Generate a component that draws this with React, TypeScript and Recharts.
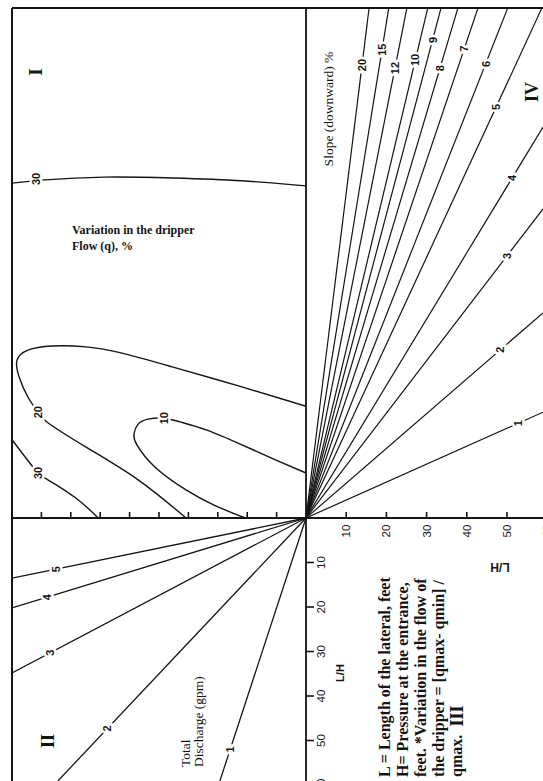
import React from "react";
import { ComposedChart, Line, Scatter, XAxis, YAxis, ReferenceLine } from "recharts";

// page / frame layout
const W = 543;
const H = 781;
const ORIGIN_X = 306;
const ORIGIN_Y = 518;
const FRAME_LEFT = 12;
const FRAME_TOP = 8;
const PX_PER_LEFT = 29.4; // left scale, 0..10
const PX_PER_HL = 4.02; // right scale (L/H), 0..60
const PX_PER_LH = 4.45; // downward scale (L/H), 0..60
const PX_PER_UP = 4.6; // upward scale (unlabelled)

const INK = "#141414";
const serif = "'Liberation Serif', 'Times New Roman', serif";
const sans = "'Liberation Sans', Arial, sans-serif";

// axis ticks
const leftTicks = [1, 2, 3, 4, 5, 6, 7, 8, 9];
const lhTicks = [10, 20, 30, 40, 50, 60];
const hlTicks = [10, 20, 30, 40, 50, 60];

// quadrant II: total discharge (gpm), end point as [left scale, L/H]
const dischargeNames = ["1", "2", "3", "4", "5"];
const dischargeEndLeft = [2.93, 8.44, 10, 10, 10];
const dischargeEndLH = [59.1, 59.1, 34.8, 20.2, 13.5];

// quadrant IV: slope (downward) %, end point as [L/H right, upward scale]
const slopeNames = ["1", "2", "3", "4", "5", "6", "7", "8", "9", "10", "12", "15", "20"];
const slopeEndHL = [58.96, 58.96, 58.96, 58.96, 58.7, 50.2, 42.8, 37.8, 33.6, 30.3, 25.1, 20.6, 15.7];
const slopeEndUp = [23.0, 44.6, 67.2, 85.0, 110.9, 110.9, 110.9, 110.9, 110.9, 110.9, 110.9, 110.9, 110.9];

// quadrant I: variation in dripper flow (q) %, as [left scale, upward scale]
const variationNames = ["30", "20", "10", "30"];
const variation30Top = [[10, 72.8], [8.88, 73.5], [6.87, 74.1], [4.52, 73.9], [2.18, 73.3], [0, 72.2]];
const variation20 = [
  [0, 24.3], [2.18, 28.5], [4.52, 32.8], [6.29, 35.9], [7.48, 37.2], [8.64, 37.4],
  [9.46, 36.5], [9.83, 34.3], [9.76, 30.7], [9.46, 26.3], [9.12, 23.0], [8.78, 20.7],
  [7.48, 15.4], [5.71, 8.3], [4.08, 0],
];
const variation10 = [
  [0, 9.78], [1.02, 12.6], [2.18, 15.9], [3.37, 19.1], [4.29, 20.9], [4.83, 21.7],
  [5.37, 21.5], [5.71, 20.4], [5.85, 18.3], [5.75, 15.9], [5.14, 11.1], [4.08, 6.1],
  [3.13, 2.8], [2.07, 0],
];
const variation30Low = [[10, 17.0], [9.52, 13.0], [9.12, 9.8], [8.78, 8.3], [7.82, 4.3], [7.07, 0]];

// label placement (fraction along each line / label spot)
const dischargeLabelAt = [0.88, 0.8, 0.87, 0.88, 0.85];
const slopeLabelAt = [0.896, 0.82, 0.848, 0.87, 0.806, 0.89, 0.92, 0.882, 0.937, 0.898, 0.882, 0.918, 0.888];
const variationLabelPos = [[9.18, 73.7], [9.12, 23.0], [4.83, 21.7], [9.12, 9.8]];

const noteLines = [
  "L = Length of the lateral, feet",
  "H= Pressure at the entrance,",
  "feet. *Variation in the flow of",
  "the dripper = [qmax- qmin] /",
  "qmax.",
];

const xlDomain = [-(W - ORIGIN_X) / PX_PER_LEFT, (ORIGIN_X - FRAME_LEFT) / PX_PER_LEFT];
const xrDomain = [-(ORIGIN_X - FRAME_LEFT) / PX_PER_HL, (W - ORIGIN_X) / PX_PER_HL];
const ydDomain = [-(ORIGIN_Y - FRAME_TOP) / PX_PER_LH, (H - ORIGIN_Y) / PX_PER_LH];
const yuDomain = [-(H - ORIGIN_Y) / PX_PER_UP, (ORIGIN_Y - FRAME_TOP) / PX_PER_UP];

const pts = (pairs: number[][]) => pairs.map(([x, y]) => ({ x, y }));

const LineLabel = (props: any) => {
  const { cx, cy, payload } = props;
  return (
    <text
      x={cx}
      y={cy}
      transform={`rotate(-90 ${cx} ${cy})`}
      textAnchor="middle"
      dominantBaseline="central"
      fontFamily={sans}
      fontWeight="bold"
      fontSize={11}
      fill={INK}
      stroke="#fff"
      strokeWidth={5}
      paintOrder="stroke"
    >
      {payload.label}
    </text>
  );
};

const UpTick = (props: any) => {
  const { cx, cy } = props;
  return <line x1={cx} x2={cx} y1={cy} y2={cy - 6} stroke={INK} strokeWidth={1.6} />;
};

const RightTick = (props: any) => {
  const { cx, cy, payload } = props;
  return (
    <g>
      <line x1={cx} x2={cx} y1={cy} y2={cy - 6} stroke={INK} strokeWidth={1.6} />
      <text
        x={cx}
        y={cy + 13}
        transform={`rotate(-90 ${cx} ${cy + 13})`}
        textAnchor="middle"
        dominantBaseline="central"
        fontFamily={sans}
        fontSize={11.5}
        fill={INK}
      >
        {payload.label}
      </text>
    </g>
  );
};

const DownTick = (props: any) => {
  const { cx, cy, payload } = props;
  return (
    <g>
      <line x1={cx} x2={cx + 8} y1={cy} y2={cy} stroke={INK} strokeWidth={1.6} />
      <text
        x={cx + 15}
        y={cy}
        transform={`rotate(-90 ${cx + 15} ${cy})`}
        textAnchor="middle"
        dominantBaseline="central"
        fontFamily={sans}
        fontSize={11.5}
        fill={INK}
      >
        {payload.label}
      </text>
    </g>
  );
};

const VText = ({ x, y, size, weight = "normal", family = serif, anchor = "middle", children }: any) => (
  <text
    x={x}
    y={y}
    transform={`rotate(-90 ${x} ${y})`}
    textAnchor={anchor}
    dominantBaseline="central"
    fontFamily={family}
    fontWeight={weight}
    fontSize={size}
    fill={INK}
  >
    {children}
  </text>
);

export default function App() {
  const dischargeLabels = dischargeNames.map((label, i) => ({
    x: dischargeEndLeft[i] * dischargeLabelAt[i],
    y: dischargeEndLH[i] * dischargeLabelAt[i],
    label,
  }));
  const slopeLabels = slopeNames.map((label, i) => ({
    x: slopeEndHL[i] * slopeLabelAt[i],
    y: slopeEndUp[i] * slopeLabelAt[i],
    label,
  }));
  const variationLabels = variationNames.map((label, i) => ({
    x: variationLabelPos[i][0],
    y: variationLabelPos[i][1],
    label,
  }));
  const contours = [variation30Top, variation20, variation10, variation30Low];

  return (
    <div style={{ position: "relative", width: W, height: H, overflow: "hidden", background: "#fff" }}>
      <style>{"body{margin:0;background:#fff}"}</style>
      <ComposedChart width={W} height={H} margin={{ top: FRAME_TOP, left: FRAME_LEFT, right: 0, bottom: 0 }}>
        <XAxis xAxisId="xl" type="number" dataKey="x" domain={xlDomain} reversed hide allowDataOverflow />
        <XAxis xAxisId="xr" type="number" dataKey="x" domain={xrDomain} hide allowDataOverflow />
        <YAxis yAxisId="yd" type="number" dataKey="y" domain={ydDomain} reversed hide allowDataOverflow />
        <YAxis yAxisId="yu" type="number" dataKey="y" domain={yuDomain} hide allowDataOverflow />

        <ReferenceLine xAxisId="xl" yAxisId="yu" x={xlDomain[1]} stroke={INK} strokeWidth={2} />
        <ReferenceLine xAxisId="xl" yAxisId="yu" y={yuDomain[1]} stroke={INK} strokeWidth={2} />
        <ReferenceLine xAxisId="xl" yAxisId="yu" x={0} stroke={INK} strokeWidth={1.8} />
        <ReferenceLine xAxisId="xl" yAxisId="yu" y={0} stroke={INK} strokeWidth={2.2} />

        {dischargeNames.map((n, i) => (
          <Line
            key={"d" + n}
            data={[{ x: 0, y: 0 }, { x: dischargeEndLeft[i], y: dischargeEndLH[i] }]}
            xAxisId="xl"
            yAxisId="yd"
            dataKey="y"
            type="linear"
            stroke={INK}
            strokeWidth={1.3}
            dot={false}
            activeDot={false}
            isAnimationActive={false}
          />
        ))}
        {slopeNames.map((n, i) => (
          <Line
            key={"s" + n}
            data={[{ x: 0, y: 0 }, { x: slopeEndHL[i], y: slopeEndUp[i] }]}
            xAxisId="xr"
            yAxisId="yu"
            dataKey="y"
            type="linear"
            stroke={INK}
            strokeWidth={1.2}
            dot={false}
            activeDot={false}
            isAnimationActive={false}
          />
        ))}
        {contours.map((c, i) => (
          <Line
            key={"v" + i}
            data={pts(c)}
            xAxisId="xl"
            yAxisId="yu"
            dataKey="y"
            type="natural"
            stroke={INK}
            strokeWidth={1.4}
            dot={false}
            activeDot={false}
            isAnimationActive={false}
          />
        ))}

        <Scatter data={leftTicks.map((v) => ({ x: v, y: 0 }))} xAxisId="xl" yAxisId="yu" shape={UpTick} isAnimationActive={false} />
        <Scatter data={hlTicks.map((v) => ({ x: v, y: 0, label: String(v) }))} xAxisId="xr" yAxisId="yu" shape={RightTick} isAnimationActive={false} />
        <Scatter data={lhTicks.map((v) => ({ x: 0, y: v, label: String(v) }))} xAxisId="xl" yAxisId="yd" shape={DownTick} isAnimationActive={false} />

        <Scatter data={dischargeLabels} xAxisId="xl" yAxisId="yd" shape={LineLabel} isAnimationActive={false} />
        <Scatter data={slopeLabels} xAxisId="xr" yAxisId="yu" shape={LineLabel} isAnimationActive={false} />
        <Scatter data={variationLabels} xAxisId="xl" yAxisId="yu" shape={LineLabel} isAnimationActive={false} />
      </ComposedChart>

      <svg width={W} height={H} style={{ position: "absolute", left: 0, top: 0, pointerEvents: "none" }}>
        <VText x={36} y={72} size={18} weight="bold">I</VText>
        <VText x={48} y={741} size={18} weight="bold">II</VText>
        <VText x={457} y={716} size={18} weight="bold">III</VText>
        <VText x={532} y={92} size={18} weight="bold">IV</VText>

        <VText x={328} y={109} size={13.5}>Slope (downward) %</VText>

        <text x={72} y={234} fontFamily={serif} fontWeight="bold" fontSize={12} fill={INK}>
          Variation in the dripper
        </text>
        <text x={72} y={250} fontFamily={serif} fontWeight="bold" fontSize={12} fill={INK}>
          Flow (q), %
        </text>

        <VText x={185} y={767} size={13.5} anchor="start">Total</VText>
        <VText x={198} y={767} size={13.5} anchor="start">Discharge (gpm)</VText>

        {noteLines.map((t, i) => (
          <VText key={t} x={384 + i * 18.2} y={777} size={16} weight="bold" anchor="start">
            {t}
          </VText>
        ))}

        <VText x={340} y={673} size={11} weight="bold" family={sans}>L/H</VText>
        <text
          x={500}
          y={567}
          transform="rotate(180 500 567)"
          textAnchor="middle"
          dominantBaseline="central"
          fontFamily={sans}
          fontWeight="bold"
          fontSize={12}
          fill={INK}
        >
          L/H
        </text>
      </svg>
    </div>
  );
}
